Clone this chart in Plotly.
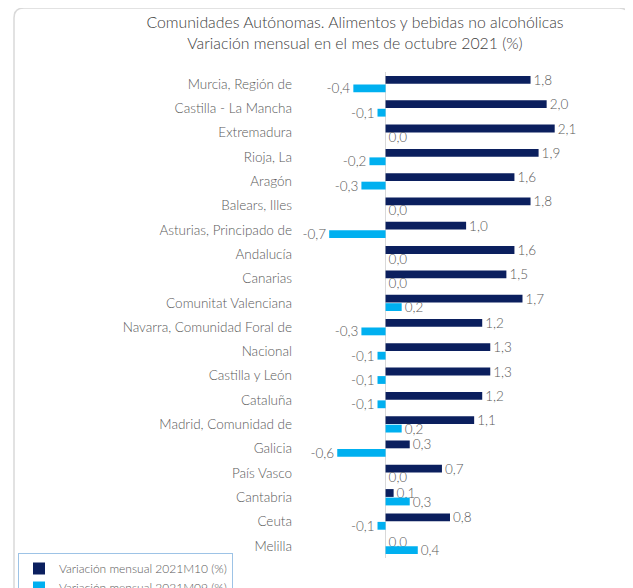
import plotly.graph_objects as go

categories = [
    "Murcia, Región de", "Castilla - La Mancha", "Extremadura", "Rioja, La",
    "Aragón", "Balears, Illes", "Asturias, Principado de", "Andalucía",
    "Canarias", "Comunitat Valenciana", "Navarra, Comunidad Foral de",
    "Nacional", "Castilla y León", "Cataluña", "Madrid, Comunidad de",
    "Galicia", "País Vasco", "Cantabria", "Ceuta", "Melilla",
]
m10 = [1.8, 2.0, 2.1, 1.9, 1.6, 1.8, 1.0, 1.6, 1.5, 1.7,
       1.2, 1.3, 1.3, 1.2, 1.1, 0.3, 0.7, 0.1, 0.8, 0.0]
m09 = [-0.4, -0.1, 0.0, -0.2, -0.3, 0.0, -0.7, 0.0, 0.0, 0.2,
       -0.3, -0.1, -0.1, -0.1, 0.2, -0.6, 0.0, 0.3, -0.1, 0.4]
series_names = ["Variación mensual 2021M10 (%)", "Variación mensual 2021M09 (%)"]
title_lines = ["Comunidades Autónomas. Alimentos y bebidas no alcohólicas",
               "Variación mensual en el mes de octubre 2021 (%)"]

# the page adds an 8px body margin, so work in screen pixels minus 8
OFF = 8
W, H = 633 - OFF, 588 - OFF
ML, MR, MT, MB = 301 - OFF, 34, 72 - OFF, 30
PW = W - ML - MR
PH = H - MT - MB

TXT = "#595959"
FONT = "Lato"
WT = 300


def fmt(v):
    return f"{v:.1f}".replace(".", ",")


fig = go.Figure()
for name, vals, color in [(series_names[0], m10, "#0B1F5E"),
                          (series_names[1], m09, "#00B0F0")]:
    fig.add_trace(go.Bar(
        y=categories, x=vals, orientation="h", name=name,
        marker=dict(color=color, line=dict(width=0)),
        text=[fmt(v) for v in vals], textposition="outside",
        textfont=dict(size=13.5, color=TXT, family=FONT, weight=WT),
        constraintext="none", cliponaxis=False,
    ))


def px_x(p):  # screen px -> paper
    return (p - OFF - ML) / PW


def px_y(p):
    return 1 - (p - OFF - MT) / PH


# rounded frame around the chart
x0, x1 = px_x(14), px_x(629)
y0, y1 = px_y(8), px_y(600)
rx, ry = 10 / PW, 10 / PH
path = (f"M {x0},{y1} L {x0},{y0 - ry} Q {x0},{y0} {x0 + rx},{y0} "
        f"L {x1 - rx},{y0} Q {x1},{y0} {x1},{y0 - ry} L {x1},{y1}")
fig.add_shape(type="path", path=path, xref="paper", yref="paper",
              line=dict(color="#D9D9D9", width=1.5), layer="below")

fig.update_layout(
    width=W, height=H,
    margin=dict(l=ML, r=MR, t=MT, b=MB, autoexpand=False),
    paper_bgcolor="white", plot_bgcolor="white",
    barmode="group", bargap=0.3, bargroupgap=0.08,
    font=dict(family=FONT, color=TXT, size=12, weight=WT),
    title=dict(text="<br>".join(title_lines), xref="container", yref="container",
               x=(355 - OFF) / W, xanchor="center", y=1 - 20 / H, yanchor="top",
               font=dict(size=15.8, color="#404040", family=FONT, weight=WT)),
    showlegend=True,
    legend=dict(xref="container", yref="container", x=(18 - OFF) / W,
                y=1 - (553 - OFF) / H,
                xanchor="left", yanchor="top", orientation="v",
                bordercolor="#9DC3E6", borderwidth=1, bgcolor="white",
                font=dict(size=12, color=TXT, family=FONT, weight=WT),
                itemwidth=30, traceorder="normal", tracegroupgap=0),
    xaxis=dict(range=[-1.05, 2.65], showticklabels=False, showgrid=False,
               zeroline=True, zerolinecolor="#D9D9D9", zerolinewidth=1,
               showline=False, ticks="", automargin=False),
    yaxis=dict(autorange="reversed", showgrid=False, ticks="", showline=False,
               automargin=False, ticklabelstandoff=8,
               tickfont=dict(size=13.5, color=TXT, family=FONT, weight=WT)),
)

fig.write_html("out.html")
